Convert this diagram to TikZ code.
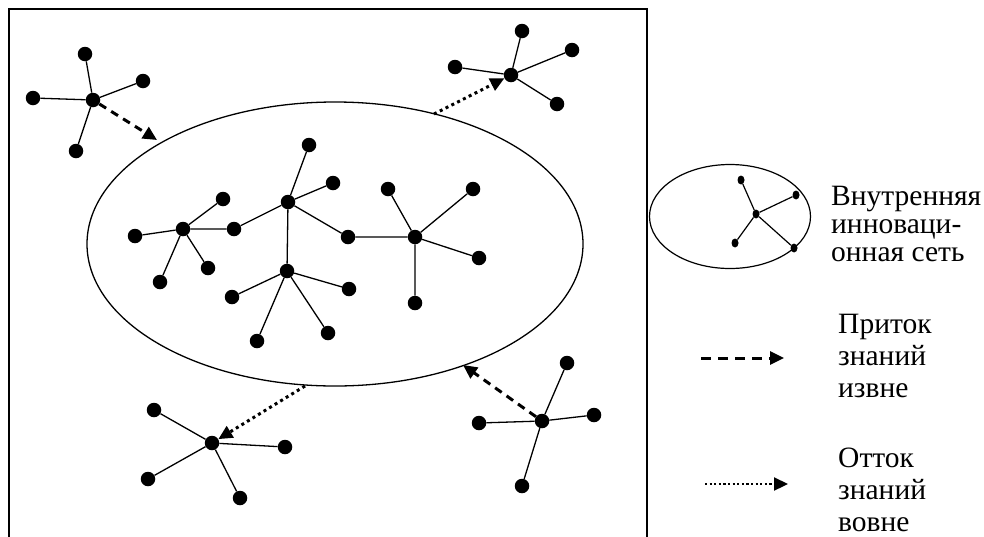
\documentclass[tikz,border=0pt]{standalone}
\usepackage{fontspec}
\setmainfont{Liberation Serif}
\usetikzlibrary{arrows.meta, positioning, shapes.geometric}

\begin{document}
\begin{tikzpicture}[
    x=1pt, y=-1pt,
    dotnode/.style={circle, fill=black, inner sep=0pt, minimum size=14.5pt},
    smalldot/.style={ellipse, fill=black, inner sep=0pt, minimum width=7pt, minimum height=9pt},
    link/.style={line width=1.3pt},
    inflow/.style={-{Triangle[length=14pt, width=13pt]}, line width=3pt, dash pattern=on 8pt off 6pt},
    outflow/.style={-{Triangle[length=14pt, width=13pt]}, line width=3pt, dash pattern=on 3pt off 3.5pt},
    legtext/.style={align=left, inner sep=0pt, anchor=base west, font=\fontsize{29.5}{29}\selectfont}
]
\useasboundingbox (0,0) rectangle (984,536);
\draw[line width=1.8pt] (9,540) -- (9,9) -- (647,9) -- (647,540);

\node[ellipse, draw, line width=1.3pt, inner sep=0pt, minimum width=496pt, minimum height=284pt] (core) at (335,244) {};

% inner network
\node[dotnode] (hubA) at (183,229) {};
\node[dotnode] (a1) at (223,199) {};
\node[dotnode] (a2) at (135,236) {};
\node[dotnode] (a3) at (160,282) {};
\node[dotnode] (a4) at (208,268) {};
\node[dotnode] (ab) at (234,229) {};
\node[dotnode] (hubB) at (288,202) {};
\node[dotnode] (b1) at (309,145) {};
\node[dotnode] (b2) at (333,183) {};
\node[dotnode] (bd) at (348,237) {};
\node[dotnode] (hubC) at (287,271) {};
\node[dotnode] (c1) at (232,297) {};
\node[dotnode] (c2) at (257,341) {};
\node[dotnode] (c3) at (328,333) {};
\node[dotnode] (c4) at (349,289) {};
\node[dotnode] (hubD) at (415,237) {};
\node[dotnode] (d1) at (388,189) {};
\node[dotnode] (d2) at (473,189) {};
\node[dotnode] (d3) at (479,258) {};
\node[dotnode] (d4) at (415,303) {};

\draw[link] (hubA) -- (a1) (hubA) -- (a2) (hubA) -- (a3) (hubA) -- (a4) (hubA) -- (ab);
\draw[link] (hubB) -- (b1) (hubB) -- (b2) (hubB) -- (ab) (hubB) -- (bd) (hubB) -- (hubC);
\draw[link] (hubC) -- (c1) (hubC) -- (c2) (hubC) -- (c3) (hubC) -- (c4);
\draw[link] (hubD) -- (d1) (hubD) -- (d2) (hubD) -- (d3) (hubD) -- (d4) (hubD) -- (bd);

% outer networks
\node[dotnode] (hubTL) at (93,100) {};
\node[dotnode] (tl1) at (85,54) {};
\node[dotnode] (tl2) at (143,81) {};
\node[dotnode] (tl3) at (33,98) {};
\node[dotnode] (tl4) at (76,151) {};
\draw[link] (hubTL) -- (tl1) (hubTL) -- (tl2) (hubTL) -- (tl3) (hubTL) -- (tl4);

\node[dotnode] (hubTR) at (511,75) {};
\node[dotnode] (tr1) at (522,31) {};
\node[dotnode] (tr2) at (572,50) {};
\node[dotnode] (tr3) at (455,67) {};
\node[dotnode] (tr4) at (557,104) {};
\draw[link] (hubTR) -- (tr1) (hubTR) -- (tr2) (hubTR) -- (tr3) (hubTR) -- (tr4);

\node[dotnode] (hubBL) at (212,443) {};
\node[dotnode] (bl1) at (154,410) {};
\node[dotnode] (bl2) at (285,447) {};
\node[dotnode] (bl3) at (148,479) {};
\node[dotnode] (bl4) at (240,498) {};
\draw[link] (hubBL) -- (bl1) (hubBL) -- (bl2) (hubBL) -- (bl3) (hubBL) -- (bl4);

\node[dotnode] (hubBR) at (542,421) {};
\node[dotnode] (br1) at (567,363) {};
\node[dotnode] (br2) at (594,415) {};
\node[dotnode] (br3) at (479,423) {};
\node[dotnode] (br4) at (522,486) {};
\draw[link] (hubBR) -- (br1) (hubBR) -- (br2) (hubBR) -- (br3) (hubBR) -- (br4);

% flows
\coordinate (inTL) at (157,140);
\coordinate (outTR) at (434,114);
\coordinate (outBL) at (305,386);
\coordinate (inBR) at (463,365);
\draw[inflow] (hubTL) -- (inTL);
\draw[inflow] (hubBR) -- (inBR);
\draw[outflow] (outTR) -- (hubTR);
\draw[outflow] (outBL) -- (hubBL);

% legend
\node[ellipse, draw, line width=1.2pt, inner sep=0pt, minimum width=161pt, minimum height=104pt] (legnet) at (730,216.5) {};
\node[smalldot] (lhub) at (756,214) {};
\node[smalldot] (l1) at (741,180) {};
\node[smalldot] (l2) at (796,195) {};
\node[smalldot] (l3) at (735,243) {};
\node[smalldot] (l4) at (794,248) {};
\draw[line width=1.2pt] (lhub) -- (l1) (lhub) -- (l2) (lhub) -- (l3) (lhub) -- (l4);
\node[legtext] (txtnet) at (831,261) {Внутренняя\\[-1pt]инноваци-\\[-1pt]онная сеть};

\coordinate (inA) at (701,358);
\coordinate (inB) at (784,358);
\draw[inflow, line width=3pt, dash pattern=on 10pt off 7pt] (inA) -- (inB);
\node[legtext] (txtin) at (838,397) {Приток\\[3pt]знаний\\[3pt]извне};

\coordinate (outA) at (705,484);
\coordinate (outB) at (788,484);
\draw[outflow, line width=2.2pt, dash pattern=on 2.2pt off 2.4pt] (outA) -- (outB);
\node[legtext] (txtout) at (838,531) {Отток\\[3pt]знаний\\[3pt]вовне};
\end{tikzpicture}
\end{document}
